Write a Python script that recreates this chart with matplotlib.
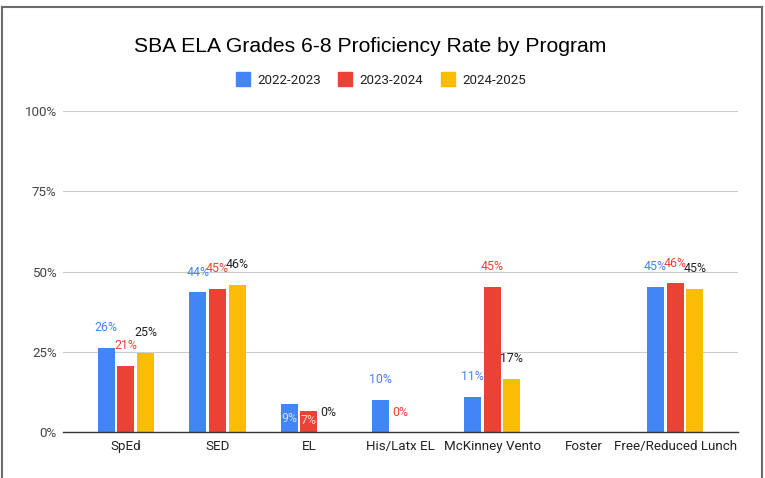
import numpy as np
import matplotlib
matplotlib.use("Agg")
import matplotlib.pyplot as plt
from matplotlib.lines import Line2D

plt.rcParams['font.family'] = ['Roboto', 'DejaVu Sans']

categories = ["SpEd", "SED", "EL", "His/Latx EL", "McKinney Vento", "Foster", "Free/Reduced Lunch"]
years = ["2022-2023", "2023-2024", "2024-2025"]
vals_2223 = [26.2, 43.6, 8.6, 10.0, 11.0, None, 45.2]
vals_2324 = [20.6, 44.6, 6.6, 0.0, 45.2, None, 46.3]
vals_2425 = [24.7, 45.9, 0.0, None, 16.6, None, 44.6]
series = [vals_2223, vals_2324, vals_2425]

colors = ["#4285F4", "#EA4335", "#FBBC04"]
label_colors = ["#4285F4", "#EA4335", "#222222"]
# labels that Sheets pushed down into the bar
inside = {(0, 2): "#cfe0fc", (1, 2): "#fbd5d1"}

fig = plt.figure(figsize=(7.65, 4.78), dpi=100)
ax = fig.add_axes([63 / 765, 1 - 432 / 478, 675 / 765, 321 / 478])

x = np.arange(len(categories))
width = 0.185
step = 0.216
for i, vals in enumerate(series):
    v = np.array([np.nan if a is None else a / 100 for a in vals])
    xs = x + (i - 1) * step
    ax.bar(xs, v, width, color=colors[i], zorder=3)
    for j, a in enumerate(vals):
        if a is None:
            continue
        col = label_colors[i]
        dy = 14.4
        if (i, j) in inside:
            col = inside[(i, j)]
            dy = -10 if i == 0 else -7
        ax.annotate("{}%".format(int(round(a))), (xs[j], a / 100), xytext=(0, dy),
                    textcoords="offset points", ha="center", va="center",
                    fontsize=8.9, color=col, zorder=4)

ax.set_xlim(-0.687, 6.687)
ax.set_ylim(0, 1)
ax.set_yticks([0, 0.25, 0.5, 0.75, 1.0])
ax.set_yticklabels(["0%", "25%", "50%", "75%", "100%"])
ax.set_xticks(x)
ax.set_xticklabels(categories)
ax.tick_params(axis="y", length=0, pad=4.5, labelsize=9.6, labelcolor="#444444")
ax.tick_params(axis="x", length=0, pad=6, labelsize=9.6, labelcolor="#222222")
ax.grid(axis="y", color="#cccccc", linewidth=0.8, zorder=0)
for s in ["top", "right", "left"]:
    ax.spines[s].set_visible(False)
ax.spines["bottom"].set_color("#333333")
ax.spines["bottom"].set_linewidth(1.0)
ax.spines["bottom"].set_zorder(5)

fig.text(370 / 765, 1 - 46 / 478, "SBA ELA Grades 6-8 Proficiency Rate by Program",
         ha="center", va="center", fontsize=15.2, color="#000000",
         family=["Liberation Sans", "DejaVu Sans"])

handles = [Line2D([], [], marker="s", linestyle="none", markersize=9.4,
                  markerfacecolor=c, markeredgecolor=c) for c in colors]
fig.legend(handles, years, loc="center", bbox_to_anchor=(381 / 765, 1 - 80 / 478),
           ncol=3, frameon=False, fontsize=9.6, handlelength=1.0,
           handletextpad=0.6, columnspacing=1.3, labelcolor="#222222")

# screenshot frame (no bottom edge)
bc = "#6b6b6b"
fig.add_artist(Line2D([1.5 / 765, 761.5 / 765], [1 - 6.5 / 478, 1 - 6.5 / 478], color=bc, lw=1.5))
fig.add_artist(Line2D([1.5 / 765, 1.5 / 765], [0, 1 - 6.5 / 478], color=bc, lw=1.5))
fig.add_artist(Line2D([761.5 / 765, 761.5 / 765], [0, 1 - 6.5 / 478], color=bc, lw=1.5))

fig.savefig("out.png", dpi=100)
